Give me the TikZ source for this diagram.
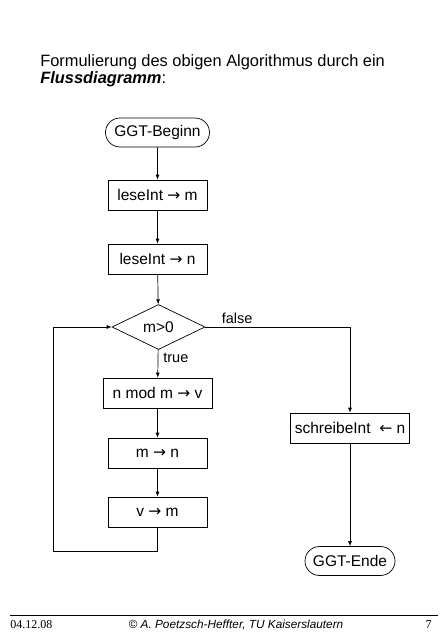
\documentclass[tikz,border=0pt]{standalone}
\usepackage{fontspec}
\setmainfont{Liberation Sans}
\newfontfamily\timesfont{Liberation Serif}
\newfontfamily\pfeilfont{DejaVu Sans}
\newcommand\rechts{{\pfeilfont →}}
\newcommand\links{{\pfeilfont ←}}
\usetikzlibrary{shapes.geometric,shapes.misc,arrows.meta}

\tikzset{
  schritt/.style={draw, rectangle, minimum height=30pt, inner sep=4pt,
    font=\fontsize{15.5}{18}\selectfont},
  grenze/.style={draw, rounded rectangle, minimum height=29pt, inner sep=7pt,
    font=\fontsize{15.5}{18}\selectfont},
  frage/.style={draw, diamond, aspect=2, inner sep=0pt, minimum width=93pt,
    minimum height=45pt, font=\fontsize{15.5}{18}\selectfont},
  marke/.style={font=\fontsize{14.5}{17}\selectfont, inner sep=3pt},
  fluss/.style={-{Latex[length=5pt,width=4pt]}},
}

\begin{document}
\begin{tikzpicture}[x=1pt, y=-1pt, line width=.7pt]
        \useasboundingbox (0,0) rectangle (443,640);
        % Ueberschrift
        \node[anchor=base west, inner sep=0pt, font=\fontsize{16.4}{20}\selectfont] (titel1) at (40,66)
          {Formulierung des obigen Algorithmus durch ein};
        \node[anchor=base west, inner sep=0pt, font=\fontsize{16.4}{20}\selectfont] (titel2) at (40,83)
          {\textbf{\textit{Flussdiagramm}}:};
        % Knoten
        \node[grenze] (beginn) at (157.5,132.5) {GGT-Beginn};
        \node[schritt, minimum width=99pt] (lesem) at (157.5,195) {leseInt \rechts{} m};
        \node[schritt, minimum width=99pt] (lesen) at (157.5,259) {leseInt \rechts{} n};
        \node[frage] (test) at (158.5,327) {m>0};
        \node[schritt, minimum width=109pt] (modv) at (157.5,393) {n mod m \rechts{} v};
        \node[schritt, minimum width=99pt] (mn) at (157.5,453) {m \rechts{} n};
        \node[schritt, minimum width=99pt] (vm) at (157.5,512) {v \rechts{} m};
        \node[schritt, minimum width=118pt] (ausgabe) at (350,428) {schreibeInt \ \links{} n};
        \node[grenze, minimum width=104pt] (ende) at (350,561) {GGT-Ende};
        \coordinate (ecke) at (53,551);
        % Verbindungen
        \draw[fluss] (beginn) -- (lesem);
        \draw[fluss] (lesem) -- (lesen);
        \draw[fluss] (lesen) -- (test);
        \draw[fluss] (test) -- node[marke, pos=.3, right=2pt] {true} (modv);
        \draw[fluss] (modv) -- (mn);
        \draw[fluss] (mn) -- (vm);
        \draw[fluss] (vm) |- (ecke) |- (test);
        \draw[fluss] (test) -| node[marke, pos=.11, above] {false} (ausgabe);
        \draw[fluss] (ausgabe) -- (ende);
        % Fusszeile
        \coordinate (linie links) at (10,615);
        \coordinate (linie rechts) at (438,615);
        \draw[line width=.6pt] (linie links) -- (linie rechts);
        \node[anchor=base west, inner sep=0pt, font=\timesfont\fontsize{12}{14}\selectfont] (datum) at (10,628) {04.12.08};
        \node[anchor=base, inner sep=0pt, font=\itshape\fontsize{11.8}{14}\selectfont] (autor) at (236,628)
          {© A. Poetzsch-Heffter, TU Kaiserslautern};
        \node[anchor=base east, inner sep=0pt, font=\timesfont\fontsize{12}{14}\selectfont] (seite) at (432,628) {7};
\end{tikzpicture}
\end{document}
